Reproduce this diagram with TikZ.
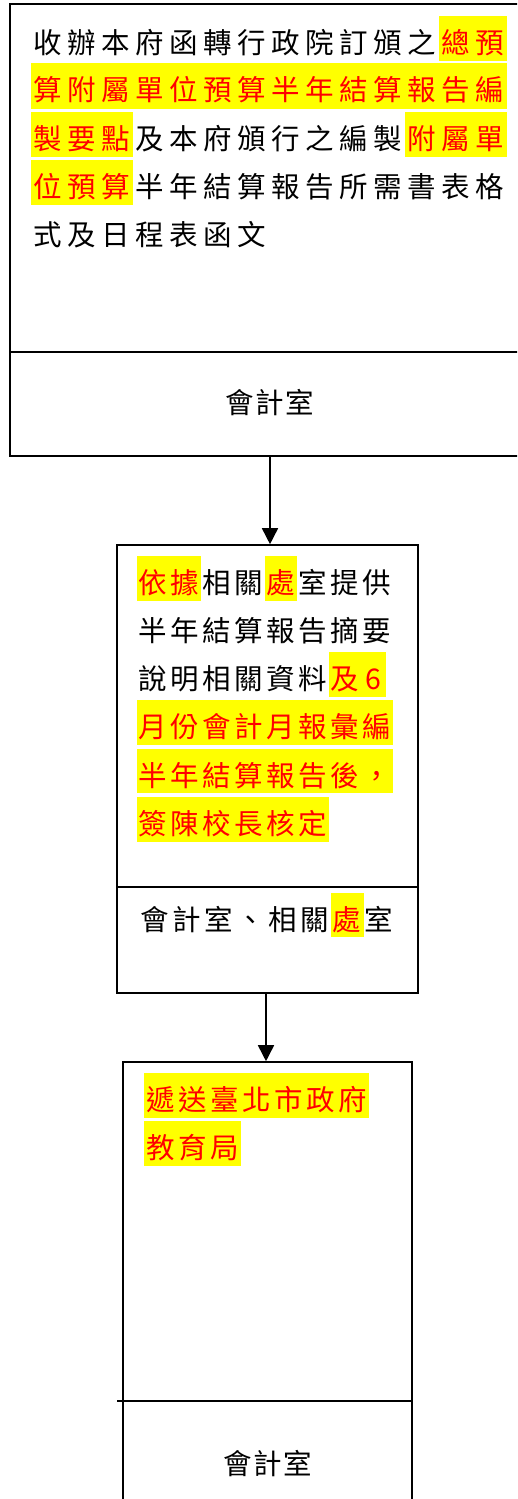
\documentclass[tikz,border=0pt]{standalone}
\usepackage{fontspec}
\usetikzlibrary{arrows.meta}
\newfontfamily\cjk{Noto Sans CJK TC}
\makeatletter
\newcommand\spc[2]{\@tfor\spc@ch:=#2\do{\makebox[#1][c]{\spc@ch}}}
\makeatother
\definecolor{hlyellow}{RGB}{255,255,0}
\definecolor{hlred}{RGB}{255,0,0}
\begin{document}
\begin{tikzpicture}[x=1pt,y=-1pt,
  box/.style={draw=black,line width=1.6pt,inner sep=0pt},
  txt/.style={inner sep=0pt,anchor=base west,font=\cjk\fontsize{28.5}{28.5}\selectfont},
  ctxt/.style={inner sep=0pt,anchor=base,font=\cjk\fontsize{28.5}{28.5}\selectfont},
  hl/.style={fill=hlyellow},
  flow/.style={line width=1.6pt,-{Triangle[width=16pt,length=16pt]}}]
\useasboundingbox (0,0) rectangle (517,1499);
\clip (0,0) rectangle (517,1499);
\fill[white] (0,0) rectangle (517,1499);
% boxes
\node[box,minimum width=520pt,minimum height=452pt] (b1) at (270,230) {};
\node[box,minimum width=301pt,minimum height=448pt] (b2) at (267.5,769) {};
\node[box,minimum width=289pt,minimum height=448pt] (b3) at (267.5,1286) {};
\coordinate (d1l) at (10,352); \coordinate (d1r) at (530,352);
\draw[line width=1.6pt] (d1l) -- (d1r);
\coordinate (d2l) at (117,887); \coordinate (d2r) at (418,887);
\draw[line width=1.6pt] (d2l) -- (d2r);
\coordinate (d3l) at (117,1401); \coordinate (d3r) at (412,1401);
\draw[line width=1.6pt] (d3l) -- (d3r);
% arrows
\coordinate (a1s) at (270,456);
\draw[flow] (a1s) -- (a1s |- b2.north);
\coordinate (a2s) at (266,993);
\draw[flow] (a2s) -- (a2s |- b3.north);
% box 1 highlights
\fill[hl] (439,16) rectangle (507,61);
\fill[hl] (31,63) rectangle (507,109);
\fill[hl] (31,112) rectangle (133,157);
\fill[hl] (405,112) rectangle (507,157);
\fill[hl] (31,160) rectangle (133,205);
% box 1 text
\node[txt] (t11) at (31,53) {\spc{34pt}{收辦本府函轉行政院訂頒之}\textcolor{hlred}{\spc{34pt}{總預}}};
\node[txt] (t12) at (31,100) {\textcolor{hlred}{\spc{34pt}{算附屬單位預算半年結算報告編}}};
\node[txt] (t13) at (31,149) {\textcolor{hlred}{\spc{34pt}{製要點}}\spc{34pt}{及本府頒行之編製}\textcolor{hlred}{\spc{34pt}{附屬單}}};
\node[txt] (t14) at (31,197) {\textcolor{hlred}{\spc{34pt}{位預算}}\spc{34pt}{半年結算報告所需書表格}};
\node[txt] (t15) at (31,245) {\spc{34pt}{式及日程表函文}};
\node[ctxt] (r1) at (270,413) {\spc{30pt}{會計室}};
% box 2 highlights
\fill[hl] (137,556) rectangle (201,601);
\fill[hl] (265,556) rectangle (297,601);
\fill[hl] (329,652) rectangle (386,697);
\fill[hl] (137,700) rectangle (393,745);
\fill[hl] (137,749) rectangle (393,793);
\fill[hl] (137,797) rectangle (329,842);
\fill[hl] (331,893) rectangle (364,937);
% box 2 text
\node[txt] (t21) at (137,593) {\textcolor{hlred}{\spc{32pt}{依據}}\spc{32pt}{相關}\textcolor{hlred}{\spc{32pt}{處}}\spc{32pt}{室提供}};
\node[txt] (t22) at (137,641) {\spc{32pt}{半年結算報告摘要}};
\node[txt] (t23) at (137,689) {\spc{32pt}{說明相關資料}\textcolor{hlred}{\spc{32pt}{及}\makebox[25pt][c]{6}}};
\node[txt] (t24) at (137,737) {\textcolor{hlred}{\spc{32pt}{月份會計月報彙編}}};
\node[txt] (t25) at (137,786) {\textcolor{hlred}{\spc{32pt}{半年結算報告後，}}};
\node[txt] (t26) at (137,834) {\textcolor{hlred}{\spc{32pt}{簽陳校長核定}}};
\node[txt] (r2) at (139,930) {\spc{32pt}{會計室、相關}\textcolor{hlred}{\spc{32pt}{處}}\spc{32pt}{室}};
% box 3 highlights
\fill[hl] (144,1073) rectangle (369,1118);
\fill[hl] (144,1121) rectangle (241,1166);
% box 3 text
\node[txt] (t31) at (144,1110) {\textcolor{hlred}{\spc{32.1pt}{遞送臺北市政府}}};
\node[txt] (t32) at (144,1158) {\textcolor{hlred}{\spc{32.1pt}{教育局}}};
\node[ctxt] (r3) at (267.5,1474) {\spc{30pt}{會計室}};
\end{tikzpicture}
\end{document}
